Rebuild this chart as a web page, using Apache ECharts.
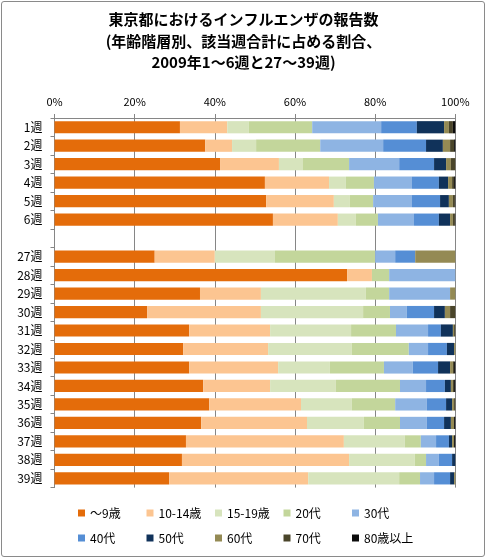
<!DOCTYPE html>
<html><head><meta charset="utf-8">
<script src="https://cdn.jsdelivr.net/npm/echarts@6/dist/echarts.min.js"></script>
<style>
html,body{margin:0;padding:0;background:#fff;}
#wrap{position:absolute;left:1px;top:1px;width:484px;height:556px;border:1.5px solid #8a8a8a;border-radius:3px;box-sizing:border-box;}
#c{position:absolute;left:0;top:0;width:487px;height:559px;}
</style></head>
<body>
<div id="wrap"></div>
<div id="c"></div>
<script>
const categories = ['1週','2週','3週','4週','5週','6週','','27週','28週','29週','30週','31週','32週','33週','34週','35週','36週','37週','38週','39週'];
const seriesNames = ['〜9歳','10-14歳','15-19歳','20代','30代','40代','50代','60代','70代','80歳以上'];
const colors = ['#E46C0A','#FCC591','#D7E4BD','#C3D69B','#8EB4E3','#558ED5','#10325A','#948A54','#4A452A','#0C0C0C'];
const xTicks = [0,20,40,60,80,100];
// values in % per category (blank row = null)
const age0_9   = [31.3,37.6,41.3,52.5,52.8,54.5,null,25,73.0,36.3,23.1,33.6,32.1,33.6,37.1,38.6,36.6,32.8,31.8,28.6];
const age10_14 = [11.8,6.7,14.7,16.0,16.9,16.2,null,15,6.2,15.2,28.4,20.2,21.2,22.2,16.7,22.9,26.4,39.4,41.7,34.7];
const age15_19 = [5.4,6.0,6.0,4.2,4.0,4.5,null,15,0,26.2,25.5,20.2,20.9,12.9,16.4,12.7,14.2,15.2,16.4,22.7];
const age20s   = [15.8,16.0,11.5,7.0,5.8,5.5,null,25,4.3,5.8,6.7,11.2,14.2,13.5,16.0,10.8,9.0,4.0,2.8,5.2];
const age30s   = [17.2,15.7,12.5,9.5,9.7,9.0,null,5,16.5,15.2,4.2,8.0,4.8,7.2,6.5,7.9,6.7,3.8,3.2,3.5];
const age40s   = [8.9,10.7,8.7,6.7,7.0,6.2,null,5,0,0,6.8,3.2,4.7,6.3,4.7,4.8,4.3,3.2,3.3,4.0];
const age50s   = [6.8,4.2,3.0,2.3,2.2,2.8,null,0,0,0,2.7,3.0,1.8,3.0,1.5,1.5,1.7,0.8,0.8,1.0];
const age60s   = [1.2,1.8,1.2,1.0,1.0,0.7,null,10,0,1.3,1.3,0.3,0.3,0.7,0.5,0.5,0.8,0.5,0,0.3];
const age70s   = [1.0,1.0,1.1,0.5,0.5,0.5,null,0,0,0,1.3,0.3,0,0.3,0.3,0.3,0,0,0,0];
const age80p   = [0.6,0.3,0,0.3,0.1,0.1,null,0,0,0,0,0,0,0.3,0.3,0,0.3,0.3,0,0];
const allData = [age0_9,age10_14,age15_19,age20s,age30s,age40s,age50s,age60s,age70s,age80p];

const font = '"Noto Sans CJK JP","Noto Sans",sans-serif';
const chart = echarts.init(document.getElementById('c'));
const legends = seriesNames.map((n,i)=>({
  left: 78 + (i%5)*68.5, top: (i<5 ? 507 : 532), padding:0,
  orient:'horizontal', icon:'rect', itemWidth:7, itemHeight:7,
  textStyle:{fontFamily:font, fontSize:12, color:'#000'},
  selectedMode:false, data:[n]
}));
chart.setOption({
  animation:false,
  textStyle:{fontFamily:font},
  title:{
    text:'東京都におけるインフルエンザの報告数\n(年齢階層別、該当週合計に占める割合、\n2009年1〜6週と27〜39週)',
    left:'center', top:9, padding:0,
    textStyle:{fontFamily:font, fontSize:15, fontWeight:'bold', color:'#000', lineHeight:21.5}
  },
  legend: legends,
  grid:{left:54.5, right:31.7, top:118, bottom:71.4, containLabel:false},
  xAxis:{
    type:'value', position:'top', min:xTicks[0], max:xTicks[xTicks.length-1], interval:20,
    axisLine:{show:true, lineStyle:{color:'#868686', width:1}},
    axisTick:{show:true, length:4, lineStyle:{color:'#868686'}},
    axisLabel:{formatter:'{value}%', fontFamily:font, fontSize:11, color:'#000', margin:11},
    splitLine:{show:true, lineStyle:{color:'#868686', width:1}}
  },
  yAxis:{
    type:'category', inverse:true, data:categories,
    axisLine:{show:true, lineStyle:{color:'#868686', width:1}},
    axisTick:{show:true, length:4, lineStyle:{color:'#868686'}},
    axisLabel:{fontFamily:font, fontSize:12, color:'#000', margin:12}
  },
  series: seriesNames.map((n,i)=>({
    name:n, type:'bar', stack:'total', data:allData[i],
    barCategoryGap:'34%', itemStyle:{color:colors[i]}
  }))
});
</script>
</body></html>
